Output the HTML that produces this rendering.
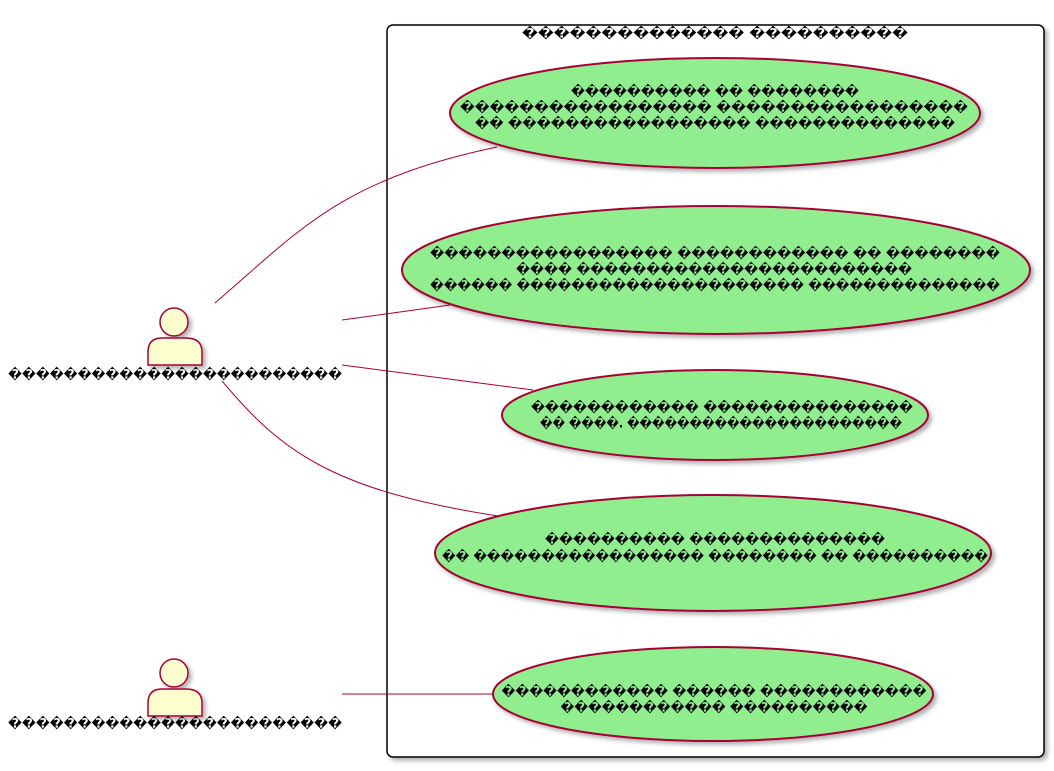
<!DOCTYPE html>
<html><head><meta charset="utf-8"><style>
html,body{margin:0;padding:0;background:#fff;}
text{font-family:"DejaVu Sans","Liberation Sans",sans-serif;font-weight:bold;font-size:13px;fill:#000;}
</style></head><body>
<svg width="1054" height="766" viewBox="0 0 1054 766" xmlns="http://www.w3.org/2000/svg">
<defs><filter id="sh" x="-10%" y="-10%" width="130%" height="130%"><feDropShadow dx="3" dy="3" stdDeviation="2" flood-color="#000" flood-opacity="0.3"/></filter></defs>
<rect x="387" y="25" width="657" height="732" rx="6" fill="#fff" stroke="#000" stroke-width="1.5" filter="url(#sh)"/>
<text x="715" y="34" text-anchor="middle" dominant-baseline="central" textLength="386" lengthAdjust="spacingAndGlyphs">�������������� ����������</text>
<g stroke="#A80036" fill="none" stroke-width="1">
<path d="M215,303 C300,230 340,180 497,147"/>
<line x1="342" y1="320" x2="450" y2="305"/>
<line x1="342" y1="365" x2="533" y2="390"/>
<path d="M222,381 C280,450 330,490 498,516"/>
<line x1="342" y1="694" x2="495" y2="694"/>
</g>
<g fill="#90EE8F" stroke="#A80036" stroke-width="2" filter="url(#sh)">
<ellipse cx="715" cy="113" rx="265" ry="55"/>
<ellipse cx="716" cy="270" rx="314" ry="64"/>
<ellipse cx="715" cy="415" rx="213" ry="45"/>
<ellipse cx="713" cy="553" rx="278" ry="58"/>
<ellipse cx="713" cy="694" rx="220" ry="47"/>
</g>
<g text-anchor="middle" dominant-baseline="central">
<text x="715" y="92" textLength="288" lengthAdjust="spacingAndGlyphs">���������� �� ��������</text>
<text x="714" y="108" textLength="508" lengthAdjust="spacingAndGlyphs">����������������� �����������������</text>
<text x="715" y="124" textLength="480" lengthAdjust="spacingAndGlyphs">�� ����������������� ��������������</text>
<text x="715" y="254" textLength="570" lengthAdjust="spacingAndGlyphs">����������������� ������������ �� ��������</text>
<text x="714" y="270" textLength="396" lengthAdjust="spacingAndGlyphs">���� ������������������������</text>
<text x="715" y="286" textLength="570" lengthAdjust="spacingAndGlyphs">������ ��������������������� ��������������</text>
<text x="722" y="408" textLength="382" lengthAdjust="spacingAndGlyphs">������������ ���������������</text>
<text x="721" y="424" textLength="362" lengthAdjust="spacingAndGlyphs">�� ����. ����������������������</text>
<text x="715" y="540" textLength="340" lengthAdjust="spacingAndGlyphs">���������� ��������������</text>
<text x="715" y="557" textLength="546" lengthAdjust="spacingAndGlyphs">�� ����������������� �������� �� ����������</text>
<text x="714" y="692" textLength="425" lengthAdjust="spacingAndGlyphs">������������ ������ ������������</text>
<text x="714" y="708" textLength="307" lengthAdjust="spacingAndGlyphs">������������ ����������</text>
</g>
<g fill="#FEFECE" stroke="#A80036" stroke-width="1.5" filter="url(#sh)">
<circle cx="174" cy="322" r="14"/>
<path d="M148,365 L148,352 Q148,338 162,338 L186,338 Q202,338 202,352 L202,365 Z"/>
<circle cx="174" cy="673" r="14"/>
<path d="M148,716 L148,703 Q148,689 162,689 L186,689 Q202,689 202,703 L202,716 Z"/>
</g>
<text x="8" y="375" dominant-baseline="central" textLength="334" lengthAdjust="spacingAndGlyphs">������������������������</text>
<text x="8" y="724" dominant-baseline="central" textLength="334" lengthAdjust="spacingAndGlyphs">������������������������</text>
</svg>
</body></html>
